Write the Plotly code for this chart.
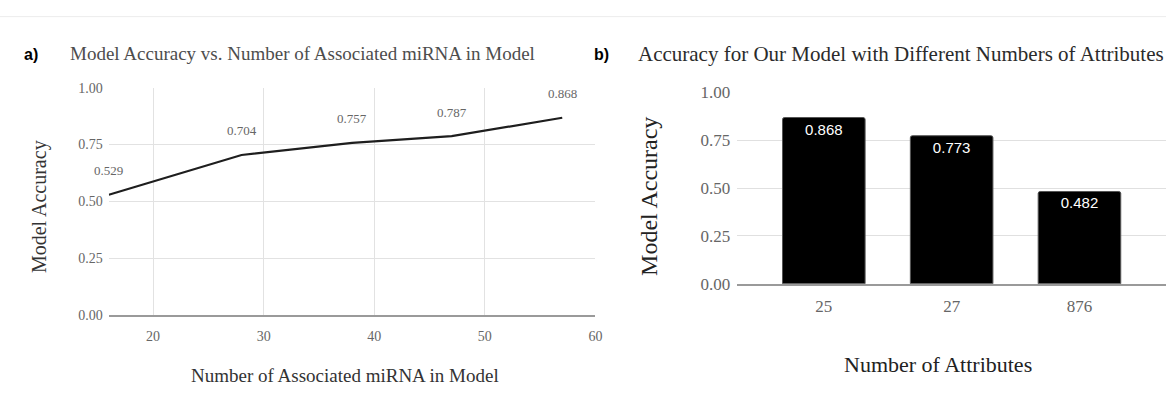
import plotly.graph_objects as go

W, H = 1173, 407

# ---- data ----
mirna_counts = [16, 28, 38, 47, 57]
mirna_accuracy = [0.529, 0.704, 0.757, 0.787, 0.868]
attr_labels = ["25", "27", "876"]
attr_accuracy = [0.868, 0.773, 0.482]
y_tick_vals = [0, 0.25, 0.5, 0.75, 1.0]
y_tick_text = ["0.00", "0.25", "0.50", "0.75", "1.00"]
x_tick_vals_a = [20, 30, 40, 50, 60]

SERIF = "Liberation Serif, Times New Roman, serif"
SANS = "Liberation Sans, Arial, sans-serif"


def px(x):
    return x / W


def py(y):
    return 1 - y / H


fig = go.Figure()

# a) line chart
fig.add_trace(go.Scatter(
    x=mirna_counts, y=mirna_accuracy, mode="lines",
    line=dict(color="#1e1e1e", width=2.2),
    xaxis="x", yaxis="y", showlegend=False, hoverinfo="skip",
))
for xv, yv in zip(mirna_counts, mirna_accuracy):
    fig.add_annotation(
        x=xv, y=yv, xref="x", yref="y", text=f"{yv:.3f}", showarrow=False,
        yshift=24, font=dict(family=SERIF, size=13, color="#666666"),
    )

# b) bar chart
fig.add_trace(go.Bar(
    x=attr_labels, y=attr_accuracy, xaxis="x2", yaxis="y2",
    marker=dict(color="#000000", line=dict(color="#555555", width=1), cornerradius=2),
    width=0.646,
    text=[f"{v:.3f}" for v in attr_accuracy], textposition="inside",
    insidetextanchor="end", textangle=0,
    textfont=dict(family=SANS, size=15, color="#ffffff"),
    showlegend=False, hoverinfo="skip",
))

fig.update_layout(
    width=W, height=H, autosize=False,
    margin=dict(l=0, r=0, t=0, b=0),
    paper_bgcolor="white", plot_bgcolor="white",
    xaxis=dict(
        domain=[px(109.5), px(599)], range=[16, 60], tickvals=x_tick_vals_a,
        showgrid=True, gridcolor="#e2e2e2", gridwidth=1, zeroline=False,
        showline=True, linecolor="#9a9a9a", linewidth=2, ticks="",
        ticklabelstandoff=7,
        tickfont=dict(family=SERIF, size=14, color="#666666"), anchor="y",
    ),
    yaxis=dict(
        domain=[py(320.7), py(82.7)], range=[0, 1], tickvals=y_tick_vals,
        ticktext=y_tick_text, showgrid=True, gridcolor="#e2e2e2", zeroline=False,
        showline=False, ticks="", ticklabelstandoff=5,
        tickfont=dict(family=SERIF, size=14, color="#666666"), anchor="x",
    ),
    xaxis2=dict(
        domain=[px(741.7), 1.0], type="category", range=[-0.677, 2.677],
        showgrid=False, zeroline=False, showline=True, linecolor="#9a9a9a",
        linewidth=2, ticks="", ticklabelstandoff=6,
        tickfont=dict(family=SERIF, size=17, color="#666666"),
        anchor="y2",
    ),
    yaxis2=dict(
        domain=[py(288.3), py(87.3)], range=[0, 1], tickvals=y_tick_vals,
        ticktext=y_tick_text, showgrid=True, gridcolor="#e0e0e0", zeroline=False,
        showline=False, ticks="", ticklabelstandoff=6,
        tickfont=dict(family=SERIF, size=17, color="#666666"), anchor="x2",
    ),
)

# faint top border line
fig.add_shape(type="line", xref="paper", yref="paper", x0=0, x1=1, y0=py(8), y1=py(8),
              line=dict(color="#ececec", width=1))

texts = [
    dict(text="<b>a)</b>", x=31, y=48, font=dict(family=SANS, size=16, color="#000000"), xanchor="center"),
    dict(text="Model Accuracy vs. Number of Associated miRNA in Model", x=68, y=47,
         font=dict(family=SERIF, size=19, color="#4d4d4d"), xanchor="left"),
    dict(text="<b>b)</b>", x=605, y=48, font=dict(family=SANS, size=16, color="#000000"), xanchor="center"),
    dict(text="Accuracy for Our Model with Different Numbers of Attributes", x=640, y=47,
         font=dict(family=SERIF, size=21, color="#2b2b2b"), xanchor="left"),
    dict(text="Number of Associated miRNA in Model", x=347, y=384,
         font=dict(family=SERIF, size=19, color="#333333"), xanchor="center"),
    dict(text="Model Accuracy", x=40, y=207, textangle=-90,
         font=dict(family=SERIF, size=20, color="#333333"), xanchor="center"),
    dict(text="Model Accuracy", x=653, y=197, textangle=-90,
         font=dict(family=SERIF, size=24, color="#222222"), xanchor="center"),
    dict(text="Number of Attributes", x=944, y=373,
         font=dict(family=SERIF, size=22, color="#222222"), xanchor="center"),
]
for t in texts:
    fig.add_annotation(
        text=t["text"], x=px(t["x"]), y=py(t["y"]), xref="paper", yref="paper",
        showarrow=False, xanchor=t["xanchor"], yanchor="middle",
        textangle=t.get("textangle", 0), font=t["font"],
    )

fig.write_html(
    "out.html",
    config={"displayModeBar": False},
    post_script="document.body.style.margin='0';document.body.style.overflow='hidden';",
)
